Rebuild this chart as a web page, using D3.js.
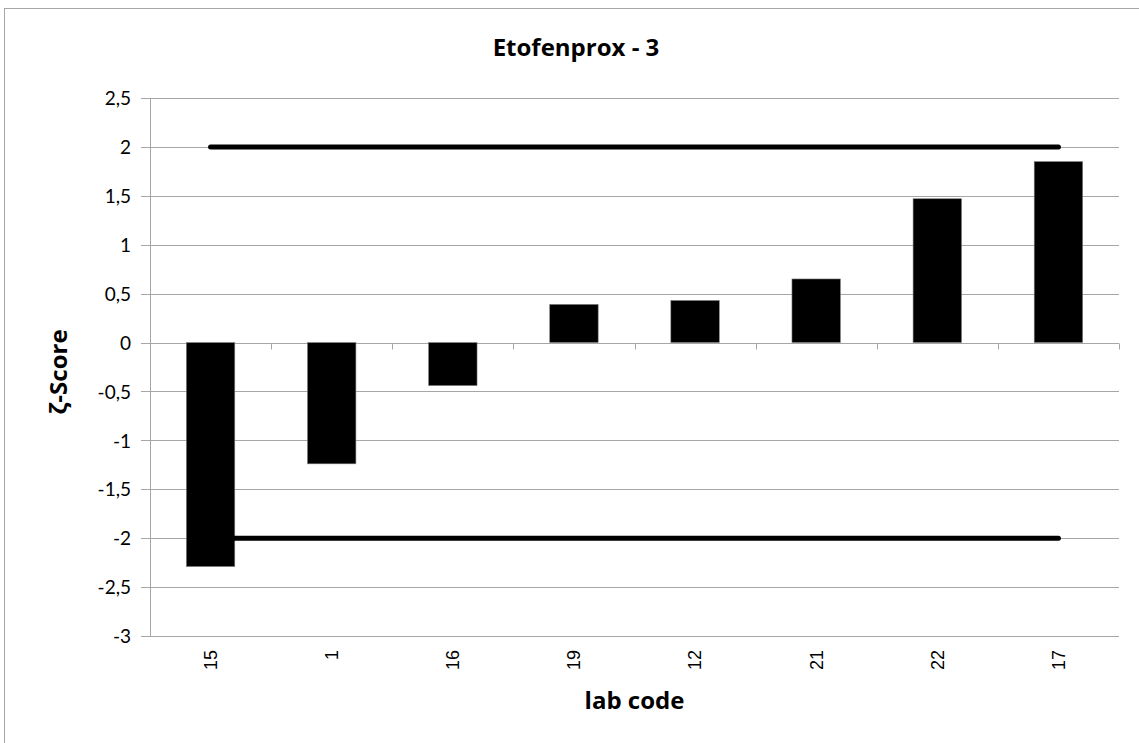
<!DOCTYPE html>
<html>
<head>
<meta charset="utf-8">
<script src="https://cdn.jsdelivr.net/npm/d3@7"></script>
<style>
  body { margin: 0; background: #fff; }
  text { font-family: Lato, "Open Sans", sans-serif; fill: #000; }
  .ttl { font-family: "Open Sans", Lato, sans-serif; font-weight: bold; font-size: 24px; }
</style>
</head>
<body>
<div id="chart"></div>
<script>
// chart values
const labCodes = ['15', '1', '16', '19', '12', '21', '22', '17'];
const zScores = [-2.29, -1.24, -0.44, 0.39, 0.43, 0.65, 1.47, 1.85];
const limits = [2, -2];
const yTicks = [2.5, 2, 1.5, 1, 0.5, 0, -0.5, -1, -1.5, -2, -2.5, -3];

const W = 1139, H = 743;
const margin = {top: 98, right: 20, bottom: 107, left: 150};
const pw = W - margin.left - margin.right, ph = H - margin.top - margin.bottom;

const svg = d3.select('#chart').append('svg')
    .attr('width', W)
    .attr('height', H);

// outer frame
svg.append('rect')
    .attr('x', 4.5).attr('y', 8.5)
    .attr('width', W + 10).attr('height', H + 10)
    .attr('fill', 'none').attr('stroke', '#a6a6a6');

const g = svg.append('g').attr('transform', `translate(${margin.left},${margin.top})`);

const x = d3.scaleBand().domain(labCodes).range([0, pw]).paddingInner(0).paddingOuter(0);
const y = d3.scaleLinear().domain([-3, 2.5]).range([ph, 0]);

// gridlines
g.selectAll('.grid')
    .data(yTicks)
    .enter().append('line')
    .attr('x1', -9).attr('x2', pw)
    .attr('y1', d => Math.round(y(d)) + 0.5).attr('y2', d => Math.round(y(d)) + 0.5)
    .attr('stroke', '#a6a6a6').attr('stroke-width', 1);

// y axis
const yAxis = g.append('g')
    .call(d3.axisLeft(y).tickValues(yTicks).tickSize(0).tickPadding(19)
        .tickFormat(d => String(d).replace('.', ',')));
yAxis.select('.domain').remove();
yAxis.selectAll('text').style('font-size', '19px').attr('dy', '0.35em');

g.append('line')
    .attr('x1', 0.5).attr('x2', 0.5).attr('y1', 0).attr('y2', ph)
    .attr('stroke', '#a6a6a6');

// x axis at bottom
const xAxis = g.append('g').attr('transform', `translate(0,${ph})`)
    .call(d3.axisBottom(x).tickSize(0).tickPadding(0));
xAxis.select('.domain').remove();
xAxis.selectAll('text')
    .style('font-family', '"Liberation Sans", Arial, sans-serif')
    .style('font-size', '18px')
    .attr('text-anchor', 'end')
    .attr('transform', 'translate(0,14) rotate(-90)')
    .attr('x', 0).attr('y', 0).attr('dy', '0.35em');

// category ticks on zero line
const zeroY = Math.round(y(0)) + 0.5;
g.selectAll('.ctick')
    .data(d3.range(labCodes.length + 1))
    .enter().append('line')
    .attr('x1', i => Math.round(i * x.step()) + 0.5)
    .attr('x2', i => Math.round(i * x.step()) + 0.5)
    .attr('y1', zeroY).attr('y2', zeroY + 6)
    .attr('stroke', '#a6a6a6');

// bars
const bw = x.bandwidth() * 0.4;
g.selectAll('.bar')
    .data(labCodes)
    .enter().append('rect')
    .attr('x', (d) => x(d) + (x.bandwidth() - bw) / 2)
    .attr('width', bw)
    .attr('y', (d, i) => y(Math.max(0, zScores[i])))
    .attr('height', (d, i) => Math.abs(y(zScores[i]) - y(0)))
    .attr('fill', '#000')
    .attr('stroke', '#808080').attr('stroke-width', 0.6);

// limit lines +/-2
const first = labCodes[0], last = labCodes[labCodes.length - 1];
g.selectAll('.limit')
    .data(limits)
    .enter().append('line')
    .attr('x1', x(first) + x.bandwidth() / 2)
    .attr('x2', x(last) + x.bandwidth() / 2)
    .attr('y1', d => y(d)).attr('y2', d => y(d))
    .attr('stroke', '#000').attr('stroke-width', 5)
    .attr('stroke-linecap', 'round');

// title
svg.append('text')
    .attr('class', 'ttl')
    .attr('x', 576).attr('y', 56)
    .attr('text-anchor', 'middle')
    .text('Etofenprox - 3');

// axis titles
svg.append('text')
    .attr('class', 'ttl')
    .attr('x', margin.left + pw / 2).attr('y', 709)
    .attr('text-anchor', 'middle')
    .text('lab code');

svg.append('text')
    .attr('class', 'ttl')
    .attr('transform', `translate(67,${margin.top + ph / 2 + 5}) rotate(-90)`)
    .attr('text-anchor', 'middle')
    .text('ζ-Score');
</script>
</body>
</html>
